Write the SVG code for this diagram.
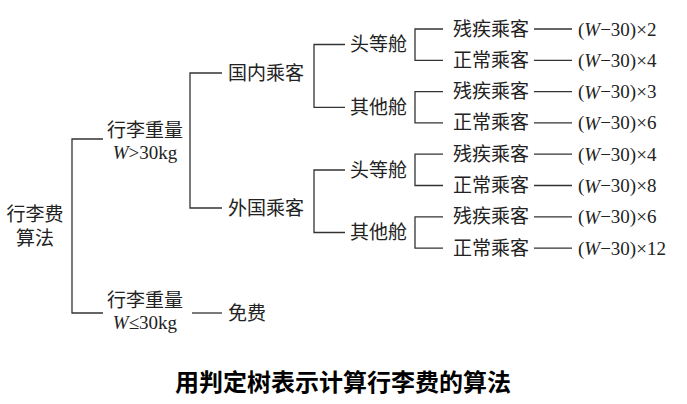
<svg xmlns="http://www.w3.org/2000/svg" width="687" height="404" viewBox="0 0 687 404">
<style>
text{font-family:"Liberation Serif","Noto Sans CJK SC",serif;font-size:19px;fill:#222;dominant-baseline:central}
.m{text-anchor:middle}
.l{fill:none;stroke:#333;stroke-width:1.3}
.t{font-size:24px;font-weight:bold;fill:#000}
</style>
<rect width="687" height="404" fill="#fff"/>
<g id="connectors">
<path class="l" d="M103 139H72V313H103"/>
<path class="l" d="M222 73H190V208H222"/>
<path class="l" d="M192 313H222"/>
<path class="l" d="M345 44.5H314V107.3H345"/>
<path class="l" d="M345 170H314V232.5H345"/>
<path class="l" d="M443 29H415V60.3H443"/>
<path class="l" d="M443 91.6H415V122.9H443"/>
<path class="l" d="M443 154.2H415V185.5H443"/>
<path class="l" d="M443 216.8H415V248.1H443"/>
<path class="l" d="M534 29H572M534 60.3H572M534 91.6H572M534 122.9H572M534 154.2H572M534 185.5H572M534 216.8H572M534 248.1H572"/>
</g>
<g id="root"><text x="35" y="214" class="m">行李费</text><text x="35" y="238" class="m">算法</text></g>
<g id="gt30"><text x="145" y="130" class="m">行李重量</text><text x="145" y="152" class="m"><tspan font-style="italic">W</tspan>&gt;30kg</text></g>
<g id="le30"><text x="145" y="300" class="m">行李重量</text><text x="145" y="322" class="m"><tspan font-style="italic">W</tspan>≤30kg</text></g>
<g id="free"><text x="228" y="313">免费</text></g>
<g id="domestic"><text x="228" y="73">国内乘客</text></g>
<g id="foreign"><text x="228" y="208">外国乘客</text></g>
<g id="d-first"><text x="350" y="44.5">头等舱</text></g>
<g id="d-other"><text x="350" y="107.3">其他舱</text></g>
<g id="f-first"><text x="350" y="170">头等舱</text></g>
<g id="f-other"><text x="350" y="232.5">其他舱</text></g>
<g id="n1"><text x="453" y="29">残疾乘客</text><text x="578" y="29">(<tspan font-style="italic">W</tspan>−30)×2</text></g>
<g id="n2"><text x="453" y="60.3">正常乘客</text><text x="578" y="60.3">(<tspan font-style="italic">W</tspan>−30)×4</text></g>
<g id="n3"><text x="453" y="91.6">残疾乘客</text><text x="578" y="91.6">(<tspan font-style="italic">W</tspan>−30)×3</text></g>
<g id="n4"><text x="453" y="122.9">正常乘客</text><text x="578" y="122.9">(<tspan font-style="italic">W</tspan>−30)×6</text></g>
<g id="n5"><text x="453" y="154.2">残疾乘客</text><text x="578" y="154.2">(<tspan font-style="italic">W</tspan>−30)×4</text></g>
<g id="n6"><text x="453" y="185.5">正常乘客</text><text x="578" y="185.5">(<tspan font-style="italic">W</tspan>−30)×8</text></g>
<g id="n7"><text x="453" y="216.8">残疾乘客</text><text x="578" y="216.8">(<tspan font-style="italic">W</tspan>−30)×6</text></g>
<g id="n8"><text x="453" y="248.1">正常乘客</text><text x="578" y="248.1">(<tspan font-style="italic">W</tspan>−30)×12</text></g>
<g id="title"><text x="343" y="383" class="m t">用判定树表示计算行李费的算法</text></g>
</svg>
